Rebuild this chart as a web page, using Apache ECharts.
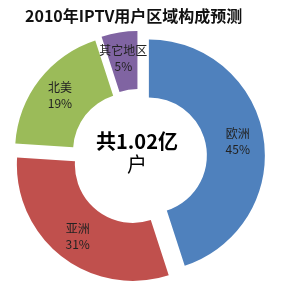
<!DOCTYPE html>
<html>
<head>
<meta charset="utf-8">
<script src="https://cdn.jsdelivr.net/npm/echarts@6/dist/echarts.min.js"></script>
<style>
  html, body { margin: 0; padding: 0; background: #fff; }
  #chart { width: 283px; height: 288px; }
</style>
</head>
<body>
<div id="chart"></div>
<script>
// 区域与占比（%）
const regions = ['欧洲', '亚洲', '北美', '其它地区'];
const shares = [45, 31, 19, 5];
const colors = ['#4F81BD', '#C0504D', '#9BBB59', '#8064A2'];

const chart = echarts.init(document.getElementById('chart'));

chart.setOption({
  animation: false,
  title: {
    text: '2010年IPTV用户区域构成预测',
    left: 20,
    top: 3,
    textStyle: {
      fontFamily: 'Noto Sans CJK SC',
      fontSize: 16,
      fontWeight: 'bold',
      color: '#111'
    }
  },
  graphic: [{
    type: 'text',
    x: 137,
    y: 130,
    style: {
      text: '{a|共1.02亿}\n{b|户}',
      align: 'center',
      rich: {
        a: { fontFamily: 'Noto Sans CJK SC', fontSize: 20, fontWeight: 'bold', color: '#111', lineHeight: 23, align: 'center' },
        b: { fontFamily: 'Noto Sans CJK SC', fontSize: 20, color: '#111', lineHeight: 23, align: 'center' }
      }
    }
  }],
  series: [{
    type: 'pie',
    center: [139, 157],
    radius: [58, 116],
    startAngle: 90,
    clockwise: true,
    selectedMode: 'multiple',
    selectedOffset: 10,
    silent: true,
    label: {
      position: 'inside',
      formatter: '{b}\n{c}%',
      fontFamily: 'Noto Sans CJK SC',
      fontSize: 12,
      lineHeight: 16,
      color: '#222'
    },
    labelLine: { show: false },
    emphasis: { disabled: true },
    data: regions.map((name, i) => ({
      name: name,
      value: shares[i],
      selected: true,
      itemStyle: { color: colors[i] }
    }))
  }]
});
</script>
</body>
</html>
